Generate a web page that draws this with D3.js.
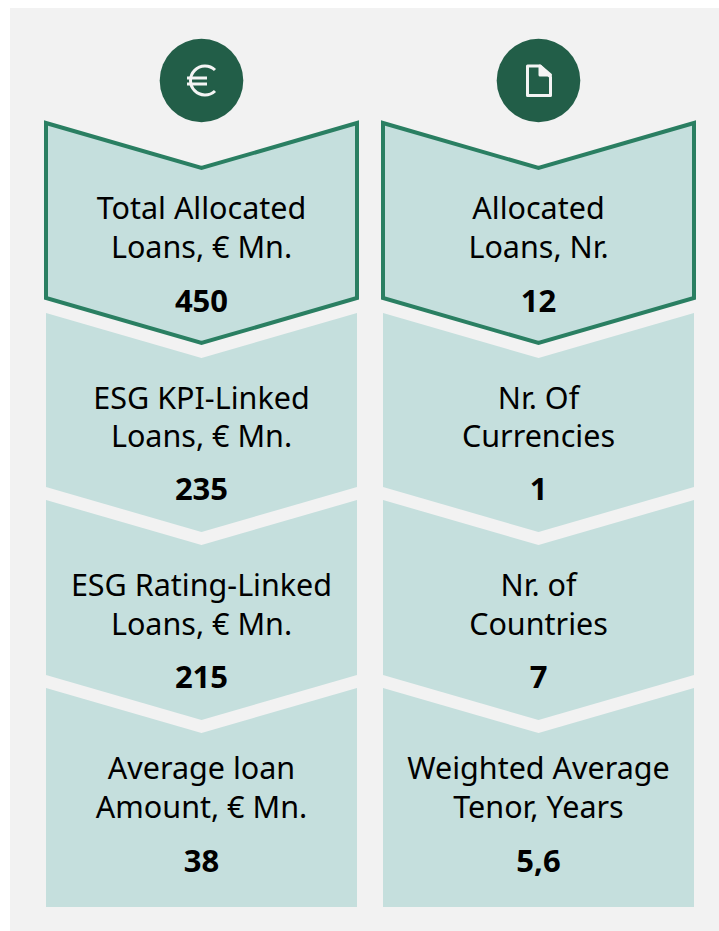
<!DOCTYPE html>
<html>
<head>
<meta charset="utf-8">
<script src="https://cdn.jsdelivr.net/npm/d3@7"></script>
<style>
  html, body { margin: 0; padding: 0; background: #fff; }
  svg { display: block; }
  text { font-family: "Noto Sans", sans-serif; fill: #000; text-anchor: middle; }
  .label { font-size: 30.5px; }
  .value { font-size: 31px; font-weight: 700; }
</style>
</head>
<body>
<svg id="chart" width="719" height="931"></svg>
<script>
const leftLabels = [
  ["Total Allocated", "Loans, € Mn."],
  ["ESG KPI-Linked", "Loans, € Mn."],
  ["ESG Rating-Linked", "Loans, € Mn."],
  ["Average loan", "Amount, € Mn."]
];
const leftValues = ["450", "235", "215", "38"];

const rightLabels = [
  ["Allocated", "Loans, Nr."],
  ["Nr. Of", "Currencies"],
  ["Nr. of", "Countries"],
  ["Weighted Average", "Tenor, Years"]
];
const rightValues = ["12", "1", "7", "5,6"];

const columns = ["euro", "doc"];
const rows = [0, 1, 2, 3];

const svg = d3.select("#chart");

const cardWidth = 311;
const notch = 45;

const x = d3.scaleOrdinal().domain(columns).range([46, 383]);
const y = d3.scaleOrdinal().domain(rows).range([123, 313, 500, 688]);
const bottoms = [298, 487, 675, 907];

svg.append("rect")
  .attr("x", 10).attr("y", 8)
  .attr("width", 709).attr("height", 923)
  .attr("fill", "#f2f2f2");

const line = d3.line();

function cardPath(col, row) {
  const x0 = x(col), x1 = x0 + cardWidth, xm = x0 + cardWidth / 2;
  const top = y(row), bot = bottoms[row];
  const pts = [[x0, top], [xm, top + notch], [x1, top]];
  if (row < rows.length - 1) {
    pts.push([x1, bot], [xm, bot + notch], [x0, bot]);
  } else {
    pts.push([x1, bot], [x0, bot]);
  }
  return line(pts) + "Z";
}

const colData = [
  { key: "euro", labels: leftLabels, values: leftValues },
  { key: "doc", labels: rightLabels, values: rightValues }
];

// label baselines per row, first and second line, then the bold number
const labelY = [[218.5, 257.5], [408.5, 446.5], [595.5, 634.5], [778.5, 817.5]];
const valueY = [311.5, 499.5, 687.5, 871.5];

colData.forEach(c => {
  const g = svg.append("g");
  const cx = x(c.key) + cardWidth / 2;

  // draw the lower cards first so the outlined top card stays on top
  rows.slice().reverse().forEach(r => {
    g.append("path")
      .attr("d", cardPath(c.key, r))
      .attr("fill", "#c5dfdd")
      .attr("stroke", r === 0 ? "#2a7f62" : "none")
      .attr("stroke-width", r === 0 ? 4 : 0)
      .attr("stroke-linejoin", "miter");
  });

  rows.forEach(r => {
    c.labels[r].forEach((t, i) => {
      g.append("text")
        .attr("class", "label")
        .attr("x", cx)
        .attr("y", labelY[r][i])
        .text(t);
    });
    g.append("text")
      .attr("class", "value")
      .attr("x", cx)
      .attr("y", valueY[r])
      .text(c.values[r]);
  });

  // round icon above the column
  g.append("circle")
    .attr("cx", cx)
    .attr("cy", 80.5)
    .attr("r", 41.8)
    .attr("fill", "#225e48");
});

// euro sign
const euro = svg.append("g")
  .attr("fill", "none")
  .attr("stroke", "#f4f4f4")
  .attr("stroke-width", 3);
euro.append("path")
  .attr("d", "M215,70 A14.5,14.5 0 1 0 215,91");
euro.append("path")
  .attr("d", "M187,78 H207 M187,84 H207");

// document sign
const doc = svg.append("g")
  .attr("fill", "none")
  .attr("stroke", "#f4f4f4")
  .attr("stroke-width", 3)
  .attr("stroke-linejoin", "round");
doc.append("path")
  .attr("d", "M527.5,66 H540 L550.5,77 V95.5 H527.5 Z");
doc.append("path")
  .attr("d", "M540,66 V75 H550.5 Z")
  .attr("fill", "#f4f4f4");
</script>
</body>
</html>
